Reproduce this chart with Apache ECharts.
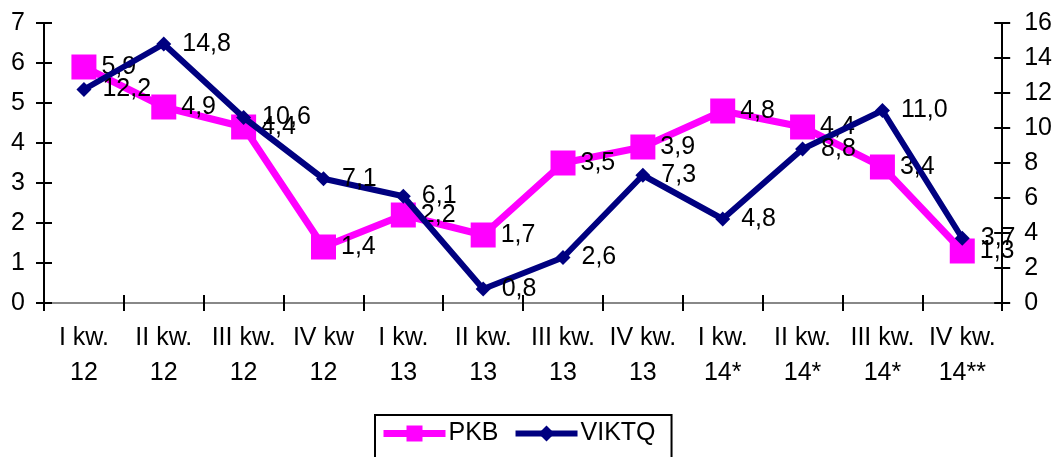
<!DOCTYPE html>
<html><head><meta charset="utf-8">
<script src="https://cdn.jsdelivr.net/npm/echarts@6/dist/echarts.min.js"></script>
<style>html,body{margin:0;padding:0;background:#fff}#c{width:1055px;height:457px}</style>
</head><body><div id="c"></div>
<script>
const categories = ["I kw.\n12","II kw.\n12","III kw.\n12","IV kw\n12","I kw.\n13","II kw.\n13","III kw.\n13","IV kw.\n13","I kw.\n14*","II kw.\n14*","III kw.\n14*","IV kw.\n14**"];
const pkb = [5.9, 4.9, 4.4, 1.4, 2.2, 1.7, 3.5, 3.9, 4.8, 4.4, 3.4, 1.3];
const viktq = [12.2, 14.8, 10.6, 7.1, 6.1, 0.8, 2.6, 7.3, 4.8, 8.8, 11.0, 3.7];
const leftTicks = [0, 7, 1];
const rightTicks = [0, 16, 2];

const font = 'Liberation Sans, Arial, sans-serif';
const fs = 25;
const fmt = p => p.value.toFixed(1).replace('.', ',');
const blackLine = {show: true, lineStyle: {color: '#000', width: 2}};
const tick = (inside) => ({show: true, inside: inside, length: 8, lineStyle: {color: '#000', width: 2}});
const chart = echarts.init(document.getElementById('c'));
chart.setOption({
  animation: false,
  textStyle: {fontFamily: font},
  grid: {left: 44, right: 52, top: 23, bottom: 154, containLabel: false},
  xAxis: [{
    type: 'category', data: categories, boundaryGap: true,
    axisLine: blackLine,
    axisTick: tick(false),
    axisLabel: {color: '#000', fontSize: fs, fontFamily: font, lineHeight: 35, margin: 18, interval: 0}
  }, {
    type: 'category', data: categories, position: 'top',
    axisLine: {show: true, lineStyle: {color: '#888', width: 2}},
    axisTick: {show: false}, axisLabel: {show: false}
  }, {
    type: 'category', data: categories, position: 'bottom', boundaryGap: true,
    axisLine: {show: false}, axisTick: tick(true), axisLabel: {show: false}
  }],
  yAxis: [{
    type: 'value', min: leftTicks[0], max: leftTicks[1], interval: leftTicks[2], position: 'left',
    axisLine: blackLine, axisTick: tick(false), splitLine: {show: false},
    axisLabel: {color: '#000', fontSize: fs, fontFamily: font, margin: 19}
  }, {
    type: 'value', min: rightTicks[0], max: rightTicks[1], interval: rightTicks[2], position: 'right',
    axisLine: blackLine, axisTick: tick(false), splitLine: {show: false},
    axisLabel: {color: '#000', fontSize: fs, fontFamily: font, margin: 22}
  }, {
    type: 'value', min: leftTicks[0], max: leftTicks[1], interval: leftTicks[2], position: 'left',
    axisLine: {show: false}, axisTick: tick(true), splitLine: {show: false}, axisLabel: {show: false}
  }, {
    type: 'value', min: rightTicks[0], max: rightTicks[1], interval: rightTicks[2], position: 'right',
    axisLine: {show: false}, axisTick: tick(true), splitLine: {show: false}, axisLabel: {show: false}
  }],
  legend: {
    left: 375, top: 415, orient: 'horizontal',
    borderColor: '#000', borderWidth: 2, padding: [6, 16, 30, 5],
    itemWidth: 62, itemHeight: 20, itemGap: 14,
    textStyle: {color: '#000', fontSize: fs, fontFamily: font, padding: [0, 0, 0, -2]},
    data: [
      {name: 'PKB', lineStyle: {width: 7, color: '#FF00FF'}},
      {name: 'VIKTQ', lineStyle: {width: 6, color: '#000080'}}
    ]
  },
  series: [{
    name: 'PKB', type: 'line', yAxisIndex: 0, data: pkb,
    symbol: 'rect', symbolSize: 25,
    lineStyle: {color: '#FF00FF', width: 7},
    itemStyle: {color: '#FF00FF'},
    label: {show: true, position: 'right', distance: 5, color: '#000', fontSize: fs, fontFamily: font, formatter: fmt},
    z: 2
  }, {
    name: 'VIKTQ', type: 'line', yAxisIndex: 1, data: viktq,
    symbol: 'diamond', symbolSize: 15,
    lineStyle: {color: '#000080', width: 6},
    itemStyle: {color: '#000080'},
    label: {show: true, position: 'right', distance: 11, color: '#000', fontSize: fs, fontFamily: font, formatter: fmt},
    z: 3
  }]
});
</script></body></html>
